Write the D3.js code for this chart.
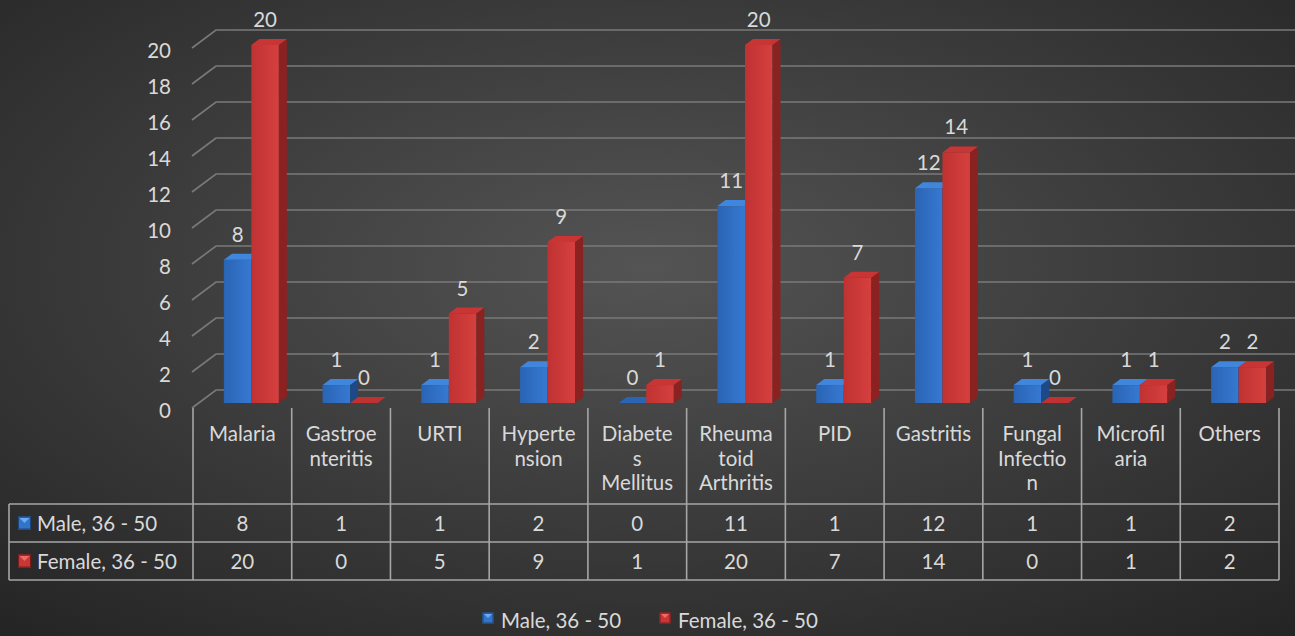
<!DOCTYPE html>
<html>
<head>
<meta charset="utf-8">
<script src="https://cdn.jsdelivr.net/npm/d3@7"></script>
<style>
  html, body { margin: 0; padding: 0; background: #2b2b2b; }
  svg { display: block; }
  text { font-family: Lato, "Open Sans", sans-serif; fill: #d9d9d9; }
</style>
</head>
<body>
<svg id="chart" width="1295" height="636"></svg>
<script>
// Cases by diagnosis, age group 36 - 50
const categories = ["Malaria", "Gastroenteritis", "URTI", "Hypertension", "Diabetes Mellitus",
  "Rheumatoid Arthritis", "PID", "Gastritis", "Fungal Infection", "Microfilaria", "Others"];
const categoryLines = [["Malaria"], ["Gastroe", "nteritis"], ["URTI"], ["Hyperte", "nsion"],
  ["Diabete", "s", "Mellitus"], ["Rheuma", "toid", "Arthritis"], ["PID"], ["Gastritis"],
  ["Fungal", "Infectio", "n"], ["Microfil", "aria"], ["Others"]];
const seriesNames = ["Male, 36 - 50", "Female, 36 - 50"];
const maleValues = [8, 1, 1, 2, 0, 11, 1, 12, 1, 1, 2];
const femaleValues = [20, 0, 5, 9, 1, 20, 7, 14, 0, 1, 2];
const yTicks = [0, 2, 4, 6, 8, 10, 12, 14, 16, 18, 20];

const seriesValues = [maleValues, femaleValues];
const palette = [
  { front0: "#2a64b4", front1: "#3679d2", side: "#1d4a86", top: "#3f86dc", lite: "#6aaaf2", mid: "#3474c8", dark: "#1c4680" },
  { front0: "#c03232", front1: "#d5403e", side: "#8a2222", top: "#c93434", lite: "#f06868", mid: "#c83636", dark: "#7a1c1c" }
];
const FS = 20.5;

const svg = d3.select("#chart");
const W = 1295, H = 636;

// background
const defs = svg.append("defs");
const bg = defs.append("radialGradient").attr("id", "bg")
  .attr("cx", "50%").attr("cy", "42%").attr("r", "75%");
bg.append("stop").attr("offset", "0%").attr("stop-color", "#545454");
bg.append("stop").attr("offset", "100%").attr("stop-color", "#252525");
svg.append("rect").attr("width", W).attr("height", H).attr("fill", "url(#bg)");

palette.forEach((p, i) => {
  const g = defs.append("linearGradient").attr("id", "front" + i)
    .attr("x1", "0%").attr("x2", "100%").attr("y1", "0%").attr("y2", "0%");
  g.append("stop").attr("offset", "0%").attr("stop-color", p.front0);
  g.append("stop").attr("offset", "100%").attr("stop-color", p.front1);
});

// scales
const x = d3.scaleBand().domain(categories).range([193, 1279]).paddingInner(0).paddingOuter(0);
const yBack = d3.scaleLinear().domain([0, 20]).range([390, 30]);   // back wall
const yFront = d3.scaleLinear().domain([0, 20]).range([408, 48]);  // front edge of the floor
const yBar = d3.scaleLinear().domain([0, 20]).range([403, 45]);    // bar front faces
const wallLeft = 216, frontLeft = 192, plotRight = 1295;
const depthX = 8, depthY = -6;

// gridlines on the wall, with the short diagonal along the side
const grid = svg.append("g").attr("stroke", "#7a7a7a").attr("stroke-width", 1.6).attr("fill", "none");
yTicks.forEach(t => {
  grid.append("path").attr("d",
    `M${frontLeft},${yFront(t)} L${wallLeft},${yBack(t)} L${plotRight},${yBack(t)}`);
});

// value axis labels
svg.append("g").selectAll("text").data(yTicks).join("text")
  .attr("x", 171).attr("y", d => yFront(d) + 2)
  .attr("text-anchor", "end").attr("dominant-baseline", "central")
  .attr("font-size", FS).text(d => d);

// bars
const inner = d3.scaleBand().domain([0, 1]).range([0, 55]);
const barLayer = svg.append("g");
categories.forEach((c, ci) => {
  const bc = x(c) + x.bandwidth() / 2;
  seriesValues.forEach((vals, si) => {
    const v = vals[ci];
    const p = palette[si];
    const x0 = bc - 18.5 + inner(si);
    const x1 = x0 + inner.bandwidth();
    const yb = yBar(0), yt = yBar(v);
    const g = barLayer.append("g");
    if (v > 0) {
      g.append("rect").attr("x", x0).attr("y", yt).attr("width", x1 - x0).attr("height", yb - yt)
        .attr("fill", `url(#front${si})`);
      g.append("path").attr("d",
        `M${x1},${yt} L${x1 + depthX},${yt + depthY} L${x1 + depthX},${yb + depthY} L${x1},${yb} Z`)
        .attr("fill", p.side);
    }
    g.append("path").attr("d",
      `M${x0},${yt} L${x1},${yt} L${x1 + depthX},${yt + depthY} L${x0 + depthX},${yt + depthY} Z`)
      .attr("fill", v > 0 ? p.top : p.front0);
    // data label
    svg.append("text").attr("x", (x0 + x1) / 2).attr("y", yt - 26)
      .attr("text-anchor", "middle").attr("dominant-baseline", "central")
      .attr("font-size", FS).text(v);
  });
});

// data table
const tbl = svg.append("g").attr("stroke", "#a6a6a6").attr("stroke-width", 1.6).attr("fill", "none");
const rowTop = 504, rowH = 38, tableLeft = 9, tableRight = 1279;
[0, 1, 2].forEach(r => {
  tbl.append("line").attr("x1", tableLeft).attr("x2", tableRight)
    .attr("y1", rowTop + r * rowH).attr("y2", rowTop + r * rowH);
});
tbl.append("line").attr("x1", tableLeft).attr("x2", tableLeft)
  .attr("y1", rowTop).attr("y2", rowTop + 2 * rowH);
categories.concat([null]).forEach(c => {
  const xx = c === null ? tableRight : x(c);
  tbl.append("line").attr("x1", xx).attr("x2", xx)
    .attr("y1", 408).attr("y2", rowTop + 2 * rowH);
});

// category labels, one text per wrapped line
const catLayer = svg.append("g");
categories.forEach((c, ci) => {
  categoryLines[ci].forEach((ln, li) => {
    catLayer.append("text").attr("x", x(c) + x.bandwidth() / 2)
      .attr("y", 433 + li * 24.7).attr("text-anchor", "middle")
      .attr("dominant-baseline", "central").attr("font-size", FS).text(ln);
  });
});

// bevelled legend key
function legendKey(sel, cx, cy, s, p) {
  const h = s / 2;
  const k = sel.append("g").attr("transform", `translate(${cx},${cy})`);
  k.append("rect").attr("x", -h).attr("y", -h).attr("width", s).attr("height", s).attr("fill", p.mid);
  k.append("path").attr("d", `M${-h + 1.5},${-h + 1.5} L${h - 1.5},${-h + 1.5} L0,0 Z`).attr("fill", p.lite);
  k.append("rect").attr("x", -h + 0.5).attr("y", -h + 0.5).attr("width", s - 1).attr("height", s - 1)
    .attr("fill", "none").attr("stroke", p.dark).attr("stroke-width", 1);
}

// table rows
seriesNames.forEach((name, si) => {
  const cy = rowTop + si * rowH + rowH / 2;
  legendKey(svg, 24.5, cy, 13, palette[si]);
  svg.append("text").attr("x", 37).attr("y", cy).attr("dominant-baseline", "central")
    .attr("font-size", FS).text(name);
  categories.forEach((c, ci) => {
    svg.append("text").attr("x", x(c) + x.bandwidth() / 2).attr("y", cy)
      .attr("text-anchor", "middle").attr("dominant-baseline", "central")
      .attr("font-size", FS).text(seriesValues[si][ci]);
  });
});

// legend
const legendX = [488, 665];
seriesNames.forEach((name, si) => {
  legendKey(svg, legendX[si], 618, 11, palette[si]);
  svg.append("text").attr("x", legendX[si] + 13).attr("y", 620)
    .attr("dominant-baseline", "central").attr("font-size", FS).text(name);
});
</script>
</body>
</html>
